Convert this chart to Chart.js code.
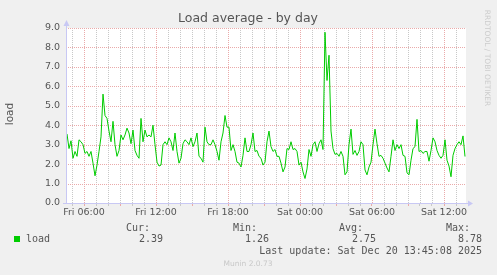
<!DOCTYPE html>
<html>
<head>
<meta charset="utf-8">
<title>Load average - by day</title>
<script src="https://cdn.jsdelivr.net/npm/chart.js@4.4.1/dist/chart.umd.min.js"></script>
<style>
    html, body { margin: 0; padding: 0; background: #f0f0f0; }
    canvas { display: block; }
</style>
</head>
<body>
<canvas id="loadChart" width="497" height="275"></canvas>
<script>
// --- Data: 10 minute samples, Fri 04:35 -> Sat 13:45 (hours counted from Fri 00:00) ---
const startHour = 4 + 35 / 60;
const stepHours = 10 / 60;

const loadValues = [
    3.55, 2.8, 3.2, 2.3, 2.65, 2.4, 3.25, 3.15, 3.0, 2.55, 2.65, 2.4, 2.65, 2.05, 1.4, 1.95,
    2.65, 3.4, 5.6, 4.5, 4.35, 3.7, 3.15, 4.2, 3.0, 2.4, 2.7, 3.5, 3.25, 3.5, 3.85, 3.6, 3.05,
    3.75, 2.7, 2.45, 2.3, 4.35, 3.15, 3.75, 3.4, 3.5, 3.4, 4.0, 3.0, 2.1, 1.9, 1.95, 3.0,
    3.15, 3.0, 3.35, 3.15, 2.7, 3.6, 2.65, 2.05, 2.3, 3.05, 3.25, 3.15, 3.0, 3.35, 2.9, 3.15, 3.6, 2.4,
    2.3, 2.1, 3.9, 3.15, 3.0, 3.0, 3.25, 3.0, 2.65, 2.2, 3.15, 3.6, 4.5, 3.9, 3.9, 2.7,
    3.0, 2.65, 2.1, 2.05, 1.85, 2.45, 3.35, 2.65, 2.65, 3.0, 3.6, 2.65, 2.7, 2.4, 2.3, 1.95, 2.1, 3.15,
    3.7, 2.9, 2.65, 2.75, 2.4, 2.4, 2.05, 1.6, 1.85, 2.8, 2.75, 3.15, 2.75, 2.8, 2.65, 1.95,
    2.1, 1.6, 1.26, 1.75, 2.75, 2.4, 3.0, 3.15, 2.65, 3.05, 3.25, 2.75, 8.78, 6.3, 7.6, 3.7, 2.8, 2.5,
    2.55, 2.4, 2.65, 2.4, 1.45, 1.6, 3.0, 3.8, 2.5, 2.7, 2.45, 2.65, 3.15, 3.0, 1.7, 1.45,
    1.85, 2.1, 3.0, 3.8, 3.05, 2.4, 2.45, 2.3, 2.05, 1.8, 1.6, 2.4, 3.25, 2.7, 3.0, 2.8, 3.0, 2.45,
    2.4, 1.55, 1.45, 2.2, 2.8, 2.9, 4.3, 2.65, 2.7, 2.55, 2.65, 2.65, 2.15, 2.7, 3.35, 3.15,
    2.7, 2.45, 2.3, 2.45, 3.25, 2.2, 1.9, 1.35, 2.45, 2.8, 3.0, 3.15, 3.0, 3.45, 2.39
];

const xTickHours = [6, 12, 18, 24, 30, 36];
const xTickLabels = ['Fri 06:00', 'Fri 12:00', 'Fri 18:00', 'Sat 00:00', 'Sat 06:00', 'Sat 12:00'];
const yTickValues = [0, 1, 2, 3, 4, 5, 6, 7, 8, 9];
const yTickLabels = ['0.0', '1.0', '2.0', '3.0', '4.0', '5.0', '6.0', '7.0', '8.0', '9.0'];

const seriesName = 'load';
const statHeaders = ['Cur:', 'Min:', 'Avg:', 'Max:'];
const statValues = ['2.39', '1.26', '2.75', '8.78'];
const lastUpdate = 'Last update: Sat Dec 20 13:45:08 2025';

// --- Look ---
const lineGreen = '#00cc00';
const majorGrid = '#eaaaaa';
const minorGrid = '#c8c8c8';
const axisColor = '#c8c8f4';
const textColor = '#555555';
const monoFont = '10px "DejaVu Sans Mono"';

Chart.defaults.font.family = '"DejaVu Sans"';

const xMin = startHour - stepHours / 2;
const xMax = xMin + 400 * 5 / 60; // 400 px at 5 min per px

const points = loadValues.map((v, i) => ({ x: startHour + i * stepHours, y: v }));

const isMajorX = v => v % 6 === 0;
const isMajorY = v => Number.isInteger(v);

// dotted rrdtool style grid, placed from the chart's own scale ticks
function drawGrid(chart, major) {
    const { ctx, chartArea: a, scales } = chart;
    ctx.strokeStyle = major ? majorGrid : minorGrid;
    ctx.beginPath();
    scales.x.ticks.forEach(t => {
        if (isMajorX(t.value) !== major) return;
        const px = Math.round(scales.x.getPixelForValue(t.value)) + 0.5;
        ctx.moveTo(px, a.top);
        ctx.lineTo(px, a.bottom);
    });
    scales.y.ticks.forEach(t => {
        if (isMajorY(t.value) !== major) return;
        const py = Math.round(scales.y.getPixelForValue(t.value)) + 0.5;
        ctx.moveTo(a.left, py);
        ctx.lineTo(a.right, py);
    });
    ctx.stroke();
}

// draws background, grid, axes with arrows and all the munin text around the plot
const muninDecor = {
    id: 'muninDecor',
    beforeDraw(chart) {
        const { ctx, chartArea: a } = chart;
        ctx.save();
        ctx.fillStyle = '#ffffff';
        ctx.fillRect(a.left, a.top, a.right - a.left, a.bottom - a.top);
        ctx.restore();
    },
    beforeDatasetsDraw(chart) {
        const { ctx } = chart;
        ctx.save();
        ctx.lineWidth = 1;
        ctx.setLineDash([1, 1]);
        drawGrid(chart, false);
        drawGrid(chart, true);
        ctx.restore();
    },
    afterDraw(chart) {
        const { ctx, chartArea: a } = chart;
        ctx.save();

        // axes
        ctx.strokeStyle = axisColor;
        ctx.fillStyle = axisColor;
        ctx.lineWidth = 1;
        ctx.beginPath();
        ctx.moveTo(a.left + 0.5, a.bottom + 0.5);
        ctx.lineTo(a.left + 0.5, a.top - 6);
        ctx.moveTo(a.left - 3, a.bottom + 0.5);
        ctx.lineTo(a.right + 3, a.bottom + 0.5);
        ctx.stroke();
        ctx.beginPath();
        ctx.moveTo(a.left - 2.5, a.top - 2);
        ctx.lineTo(a.left + 3.5, a.top - 2);
        ctx.lineTo(a.left + 0.5, a.top - 8);
        ctx.closePath();
        ctx.fill();
        ctx.beginPath();
        ctx.moveTo(a.right + 2, a.bottom - 2.5);
        ctx.lineTo(a.right + 2, a.bottom + 3.5);
        ctx.lineTo(a.right + 7, a.bottom + 0.5);
        ctx.closePath();
        ctx.fill();

        // title
        ctx.fillStyle = textColor;
        ctx.font = '12.5px "DejaVu Sans"';
        ctx.textAlign = 'center';
        ctx.textBaseline = 'middle';
        ctx.fillText('Load average - by day', 248, 19);

        // vertical axis label
        ctx.save();
        ctx.translate(10, 114);
        ctx.rotate(-Math.PI / 2);
        ctx.font = '10.5px "DejaVu Sans"';
        ctx.fillText(seriesName, 0, 0);
        ctx.restore();

        // rrdtool credit
        ctx.save();
        ctx.translate(487, 58);
        ctx.rotate(Math.PI / 2);
        ctx.fillStyle = '#cccccc';
        ctx.font = '7.5px "DejaVu Sans"';
        ctx.fillText('RRDTOOL / TOBI OETIKER', 0, 0);
        ctx.restore();

        // legend
        ctx.fillStyle = lineGreen;
        ctx.fillRect(14, 236, 6, 6);
        ctx.fillStyle = textColor;
        ctx.font = monoFont;
        ctx.textAlign = 'left';
        ctx.fillText(seriesName, 26, 239);

        const headerRight = [150, 257, 363, 470];
        const valueRight = [163, 269, 376, 482];
        ctx.textAlign = 'right';
        statHeaders.forEach((h, i) => ctx.fillText(h, headerRight[i], 228));
        statValues.forEach((v, i) => ctx.fillText(v, valueRight[i], 239));
        ctx.fillText(lastUpdate, 482, 251);

        ctx.textAlign = 'center';
        ctx.fillStyle = '#c8c8c8';
        ctx.font = '7.5px "DejaVu Sans"';
        ctx.fillText('Munin 2.0.73', 248, 264);

        ctx.restore();
    }
};

new Chart(document.getElementById('loadChart'), {
    type: 'line',
    data: {
        datasets: [{
            label: seriesName,
            data: points,
            borderColor: lineGreen,
            borderWidth: 1,
            pointRadius: 0,
            tension: 0,
            fill: false
        }]
    },
    options: {
        responsive: false,
        animation: false,
        layout: { padding: { top: 28, right: 31, left: 0, bottom: 0 } },
        plugins: { legend: { display: false }, tooltip: { enabled: false } },
        scales: {
            x: {
                type: 'linear',
                min: xMin,
                max: xMax,
                afterBuildTicks: s => {
                    const t = [];
                    for (let h = Math.ceil(xMin); h <= xMax; h++) t.push({ value: h });
                    s.ticks = t;
                },
                afterFit: s => { s.height = 72; },
                grid: {
                    drawOnChartArea: false,
                    tickColor: c => (c.tick.value % 3 === 0 ? majorGrid : minorGrid),
                    tickLength: 3,
                    lineWidth: 1
                },
                border: { display: false },
                ticks: {
                    autoSkip: false,
                    maxRotation: 0,
                    padding: 1,
                    color: textColor,
                    font: { size: 9.5 },
                    callback: v => {
                        const i = xTickHours.indexOf(v);
                        return i >= 0 ? xTickLabels[i] : '';
                    }
                }
            },
            y: {
                min: 0,
                max: 9,
                afterBuildTicks: s => {
                    const t = [];
                    for (let v = 0; v <= 9; v += 0.5) t.push({ value: v });
                    s.ticks = t;
                },
                afterFit: s => { s.width = 66; },
                grid: { drawOnChartArea: false, drawTicks: false },
                border: { display: false },
                ticks: {
                    padding: 6,
                    color: textColor,
                    font: { size: 9.5 },
                    callback: v => {
                        const i = yTickValues.indexOf(v);
                        return i >= 0 ? yTickLabels[i] : '';
                    }
                }
            }
        }
    },
    plugins: [muninDecor]
});
</script>
</body>
</html>
